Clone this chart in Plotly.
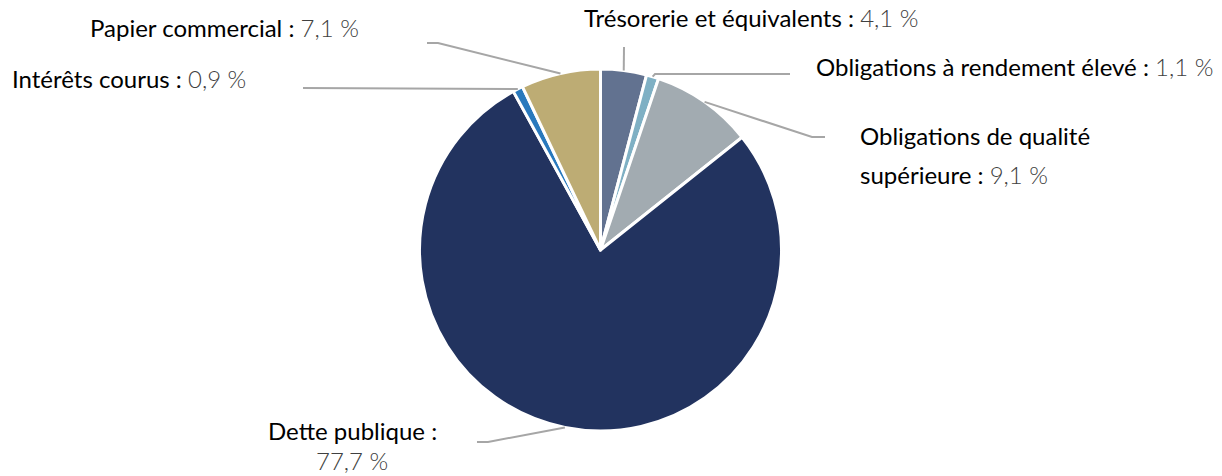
import math
import plotly.graph_objects as go

# ---- data ----
categories = [
    "Trésorerie et équivalents",
    "Obligations à rendement élevé",
    "Obligations de qualité supérieure",
    "Dette publique",
    "Intérêts courus",
    "Papier commercial",
]
values = [4.1, 1.1, 9.1, 77.7, 0.9, 7.1]
value_labels = ["4,1 %", "1,1 %", "9,1 %", "77,7 %", "0,9 %", "7,1 %"]
colors = ["#627290", "#7fb0c4", "#a2abb1", "#22335f", "#2979bd", "#bdac74"]

# ---- layout / style ----
W, H = 1222, 476
CX, CY, R = 600.5, 250.0, 181.0
FONT = "Lato"
NAME_COLOR = "#000000"
VAL_COLOR = "#404040"
LINE_COLOR = "#a6a6a6"
FS = 24

label_layout = [
    dict(lines=["<NAME> : <VAL>"], x=582, y=18, xanchor="left", align="left"),
    dict(lines=["<NAME> : <VAL>"], x=814, y=67, xanchor="left", align="left"),
    dict(lines=["Obligations de qualité", "supérieure : <VAL>"], x=858, y=154.5, sp=39, xanchor="left", align="left"),
    dict(lines=["<NAME> :", "<VAL>"], x=352, y=445, sp=30, xanchor="center", align="center"),
    dict(lines=["<NAME> : <VAL>"], x=10, y=79, xanchor="left", align="left"),
    dict(lines=["<NAME> : <VAL>"], x=88, y=27, xanchor="left", align="left"),
]
leader_points = [
    [(624, 47)],
    [(790, 74), (655, 74)],
    [(825, 137), (812, 137)],
    [(477, 442), (488, 442)],
    [(303, 88)],
    [(427, 43), (438, 43)],
]


def px(x):
    return x / W


def py(y):
    return 1 - y / H


fig = go.Figure()
fig.add_trace(go.Pie(
    labels=categories,
    values=values,
    sort=False,
    direction="clockwise",
    rotation=0,
    marker=dict(colors=colors, line=dict(color="white", width=3)),
    textinfo="none",
    hoverinfo="label+percent",
    showlegend=False,
    domain=dict(x=[px(CX - 300), px(CX + 300)], y=[py(CY + R), py(CY - R)]),
))

shapes = []
annotations = []
total = sum(values)
cum = 0.0
for i, v in enumerate(values):
    mid = (cum + v / 2) / total * 2 * math.pi
    cum += v
    ex = CX + R * math.sin(mid)
    ey = CY - R * math.cos(mid)
    pts = leader_points[i] + [(ex, ey)]
    path = "M " + " L ".join(f"{px(a):.5f},{py(b):.5f}" for a, b in pts)
    shapes.append(dict(type="path", xref="paper", yref="paper", path=path,
                       line=dict(color=LINE_COLOR, width=2)))

    lay = label_layout[i]
    n = len(lay["lines"])
    sp = lay.get("sp", 39)
    for j, line in enumerate(lay["lines"]):
        t = line.replace("<NAME>", categories[i])
        if "<VAL>" in t:
            before, after = t.split("<VAL>")
            t = (f'<span style="color:{NAME_COLOR}">{before}</span>'
                 f'<span style="color:{VAL_COLOR};font-weight:300">{value_labels[i]}</span>{after}')
        else:
            t = f'<span style="color:{NAME_COLOR}">{t}</span>'
        yy = lay["y"] + (j - (n - 1) / 2) * sp
        annotations.append(dict(
            x=px(lay["x"]), y=py(yy), xref="paper", yref="paper",
            text=t, showarrow=False, xanchor=lay["xanchor"], yanchor="middle",
            align=lay["align"], font=dict(family=FONT, size=FS, color=NAME_COLOR),
        ))

fig.update_layout(
    width=W, height=H,
    margin=dict(l=0, r=0, t=0, b=0),
    paper_bgcolor="white", plot_bgcolor="white",
    shapes=shapes, annotations=annotations,
    font=dict(family=FONT),
)
fig.write_html("out.html", config={"displayModeBar": False},
               post_script="document.body.style.margin='0';")
